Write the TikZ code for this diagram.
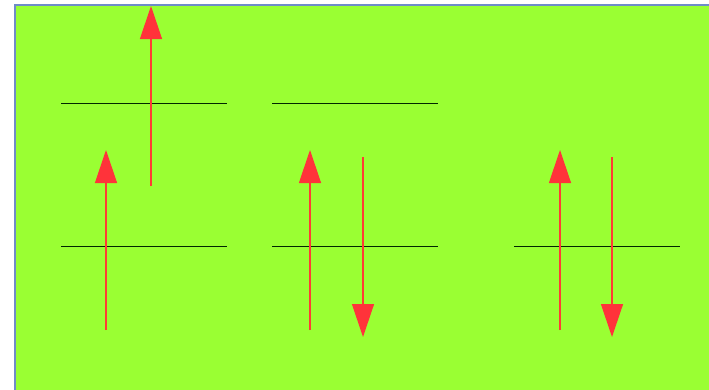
\documentclass[tikz,border=0pt]{standalone}
\usetikzlibrary{arrows.meta}
\definecolor{bggreen}{RGB}{154,255,51}
\definecolor{bgedge}{RGB}{110,140,200}
\definecolor{arrred}{RGB}{255,51,58}
\tikzset{
  level/.style={draw=black!85!green, line width=1pt},
  spin/.style={draw=arrred!90!orange, line width=1.3pt, -{Triangle[length=33pt,width=22pt,color=arrred,fill=arrred]}}
}
\begin{document}
\begin{tikzpicture}[x=1pt,y=-1pt]
\useasboundingbox (0,0) rectangle (709,389);
\clip (0,0) rectangle (709,389);
\fill[bggreen, draw=bgedge, line width=1.2pt] (15,5) rectangle (720,400);
% levels
\draw[level] (61,103) -- (227,103);
\draw[level] (272,103) -- (438,103);
\draw[level] (61,246) -- (227,246);
\draw[level] (272,246) -- (438,246);
\draw[level] (514,246) -- (680,246);
% spins
\coordinate (a1) at (151,186); \coordinate (a2) at (151,6);
\draw[spin] (a1) -- (a2);
\coordinate (b1) at (106,330); \coordinate (b2) at (106,150);
\draw[spin] (b1) -- (b2);
\coordinate (c1) at (310,330); \coordinate (c2) at (310,150);
\draw[spin] (c1) -- (c2);
\coordinate (d1) at (363,157); \coordinate (d2) at (363,337);
\draw[spin] (d1) -- (d2);
\coordinate (e1) at (560,330); \coordinate (e2) at (560,150);
\draw[spin] (e1) -- (e2);
\coordinate (f1) at (612,157); \coordinate (f2) at (612,337);
\draw[spin] (f1) -- (f2);
\end{tikzpicture}
\end{document}
